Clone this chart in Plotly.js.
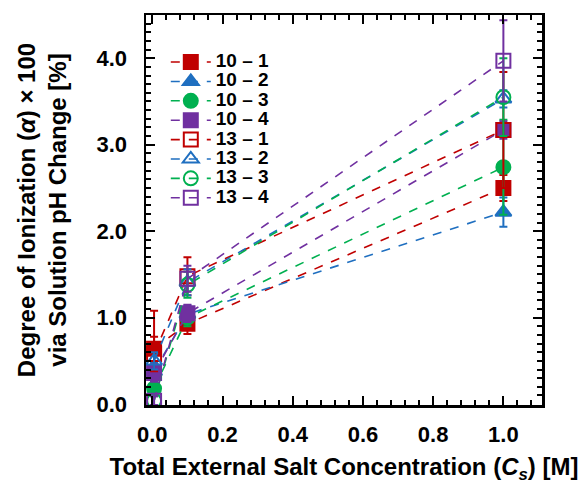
<!DOCTYPE html>
<html>
<head>
<meta charset="utf-8">
<script src="https://cdn.plot.ly/plotly-3.0.1.min.js"></script>
<style>html,body{margin:0;padding:0;background:#fff;}#chart{width:588px;height:487px;}</style>
</head>
<body>
<div id="chart"></div>
<script>
// Data
const seriesNames = ["10 \u2013 1","10 \u2013 2","10 \u2013 3","10 \u2013 4","13 \u2013 1","13 \u2013 2","13 \u2013 3","13 \u2013 4"];
const xCs = [0.005, 0.1, 1.0];
const y10_1 = [0.64, 0.93, 2.50];
const y10_2 = [0.38, 1.04, 2.22];
const y10_3 = [0.18, 1.00, 2.74];
const y10_4 = [0.36, 1.05, 3.17];
const y13_1 = [0.58, 1.48, 3.17];
const y13_2 = [0.50, 1.41, 3.53];
const y13_3 = [0.04, 1.38, 3.55];
const y13_4 = [0.04, 1.45, 3.97];
const e10_1 = [0.44, 0.12, 0.15];
const e10_2 = [0.10, 0.10, 0.17];
const e10_3 = [0.08, 0.10, 0.55];
const e10_4 = [0.10, 0.10, 0.10];
const e13_1 = [0.20, 0.22, 0.67];
const e13_2 = [0.10, 0.15, 0.10];
const e13_3 = [0.05, 0.15, 0.45];
const e13_4 = [0.05, 0.15, 0.47];
const xTickVals = [0, 0.2, 0.4, 0.6, 0.8, 1.0];
const xTickText = ['0.0','0.2','0.4','0.6','0.8','1.0'];
const yTickVals = [0, 1, 2, 3, 4];
const yTickText = ['0.0','1.0','2.0','3.0','4.0'];

const ys = [y10_1,y10_2,y10_3,y10_4,y13_1,y13_2,y13_3,y13_4];
const es = [e10_1,e10_2,e10_3,e10_4,e13_1,e13_2,e13_3,e13_4];
const colors = ["#C00000","#1F6FC0","#00B050","#7030A0","#C00000","#1F6FC0","#00B050","#7030A0"];
const symbols = ["square","triangle-up","circle","square","square-open","triangle-up-open","circle-open","square-open"];

const traces = ys.map((y,i)=>({
  x: xCs, y: y, name: '<span style="font-size:19px">' + seriesNames[i] + '</span>', type: 'scatter', mode: 'lines+markers',
  line: {color: colors[i], width: 1.6, dash: 'dash'},
  marker: {symbol: symbols[i], size: 14, color: colors[i], line: {color: colors[i], width: 2}},
  error_y: {type: 'data', array: es[i], visible: true, color: colors[i], thickness: 2, width: 4}
}));

const fontFam = 'Liberation Sans, Arial, sans-serif';
const layout = {
  width: 588, height: 487,
  margin: {l: 146, r: 46, t: 15, b: 82},
  paper_bgcolor: '#fff', plot_bgcolor: '#fff',
  font: {family: fontFam, color: '#000'},
  showlegend: true,
  legend: {x: 0.05, y: 0.917, xanchor: 'left', yanchor: 'top', bgcolor: 'rgba(0,0,0,0)',
    font: {family: fontFam, size: 12.6, color: '#000', weight: 'bold'}, tracegroupgap: 0, itemwidth: 40},
  xaxis: {
    range: [-0.018, 1.11], showgrid: false, zeroline: false,
    showline: true, linecolor: '#000', linewidth: 2.5, mirror: 'allticks',
    ticks: 'inside', ticklen: 9, tickwidth: 2, tickcolor: '#000',
    tickvals: xTickVals, ticktext: xTickText, ticklabelstandoff: 8,
    minor: {dtick: 0.04, tick0: 0, ticks: 'inside', ticklen: 5, tickwidth: 2, tickcolor: '#000'},
    tickfont: {family: fontFam, size: 22, weight: 'bold'},
    title: {text: 'Total External Salt Concentration (<i>C</i><sub><i>s</i></sub>) [M]', font: {family: fontFam, size: 24, weight: 'bold'}, standoff: 13}
  },
  yaxis: {
    range: [-0.01, 4.5], showgrid: false, zeroline: false,
    showline: true, linecolor: '#000', linewidth: 2.5, mirror: 'allticks',
    ticks: 'inside', ticklen: 9, tickwidth: 2, tickcolor: '#000',
    tickvals: yTickVals, ticktext: yTickText, ticklabelstandoff: 12,
    minor: {dtick: 0.1, tick0: 0, ticks: 'inside', ticklen: 5, tickwidth: 2, tickcolor: '#000'},
    tickfont: {family: fontFam, size: 22, weight: 'bold'},
    title: {text: 'Degree of Ionization (<i>α</i>) × 100<br>via Solution pH Change [%]', font: {family: fontFam, size: 24, weight: 'bold'}, standoff: 23}
  }
};
Plotly.newPlot('chart', traces, layout, {displayModeBar: false, staticPlot: true});
</script>
</body>
</html>
